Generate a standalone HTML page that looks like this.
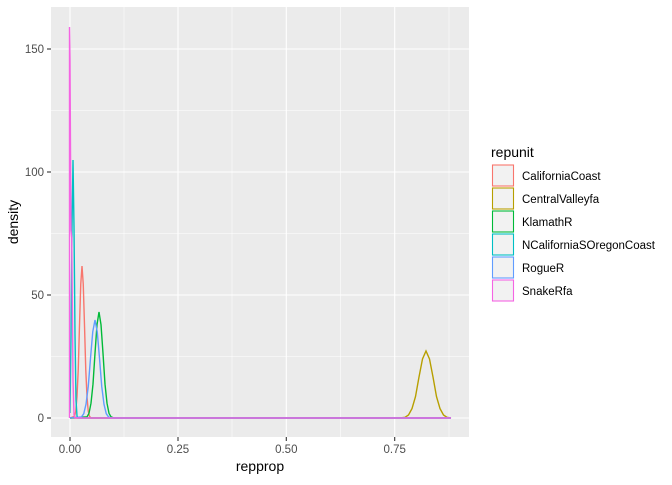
<!DOCTYPE html>
<html><head><meta charset="utf-8"><style>
body{margin:0;background:#fff;}
svg text{font-family:"Liberation Sans",Arial,sans-serif;}
</style></head><body>
<svg width="672" height="480" viewBox="0 0 672 480" xmlns="http://www.w3.org/2000/svg">
<rect x="51" y="7" width="418" height="430" fill="#ebebeb"/>
<g stroke="#fff" stroke-width="0.55">
<line x1="124" y1="7" x2="124" y2="437"/><line x1="232" y1="7" x2="232" y2="437"/><line x1="340.5" y1="7" x2="340.5" y2="437"/><line x1="449" y1="7" x2="449" y2="437"/>
<line x1="51" y1="356.5" x2="469" y2="356.5"/><line x1="51" y1="233.5" x2="469" y2="233.5"/><line x1="51" y1="110.5" x2="469" y2="110.5"/>
</g>
<g stroke="#fff" stroke-width="1.1">
<line x1="70" y1="7" x2="70" y2="437"/><line x1="178" y1="7" x2="178" y2="437"/><line x1="286.3" y1="7" x2="286.3" y2="437"/><line x1="394.7" y1="7" x2="394.7" y2="437"/>
<line x1="51" y1="418" x2="469" y2="418"/><line x1="51" y1="295" x2="469" y2="295"/><line x1="51" y1="172" x2="469" y2="172"/><line x1="51" y1="49" x2="469" y2="49"/>
</g>
<g fill="none" stroke-width="1.4">
<polyline stroke="#F8766D" points="70,418 74.5,416.3 75.75,411.3 77,396.7 78.25,369.4 79.5,325.3 80.75,284.2 82,266 83.25,284.2 84.5,325.3 85.75,369.4 87,396.7 88.25,411.3 89.5,416.3 91,418 451,418"/>
<polyline stroke="#B79F00" points="70,418 400,418 405,417.3 408.5,415 412,408.6 415.5,396.6 419,377 422.5,359 426,351 429.5,359 433,377 436.5,396.6 440,408.6 443.5,415 447,417.3 451,418"/>
<polyline stroke="#00BA38" points="70,418 87,416.8 89,413.3 91,403.2 93,384.1 95,353.3 97,324.7 99,312 101,324.7 103,353.3 105,384.1 107,403.2 109,413.3 111,416.8 114,418 451,418"/>
<polyline stroke="#00BFC4" points="70,413 71,335 72,227 73,160 74,227 75,335 76,400 77,416 78,418 451,418"/>
<polyline stroke="#619CFF" points="70,418 81.5,416.9 83.75,413.7 86,404.3 88.25,386.6 90.5,358.2 92.75,331.8 95,320 97.25,331.8 99.5,358.2 101.75,386.6 104,404.3 106.25,413.7 108.5,416.9 111,418 451,418"/>
<polyline stroke="#F564E3" points="69.5,418 69.5,27 70,60 70.5,150 71,230 71.7,238 72.3,300 73,380 74,415 75,418 451,418"/>
</g>
<g stroke="#333" stroke-width="1.1">
<line x1="47" y1="418" x2="51" y2="418"/><line x1="47" y1="295" x2="51" y2="295"/><line x1="47" y1="172" x2="51" y2="172"/><line x1="47" y1="49" x2="51" y2="49"/>
<line x1="70" y1="437" x2="70" y2="441"/><line x1="178" y1="437" x2="178" y2="441"/><line x1="286.3" y1="437" x2="286.3" y2="441"/><line x1="394.7" y1="437" x2="394.7" y2="441"/>
</g>
<g fill="#4d4d4d" font-size="11.5" text-anchor="end">
<text x="44" y="422">0</text><text x="44" y="299">50</text><text x="44" y="176">100</text><text x="44" y="53">150</text>
</g>
<g fill="#4d4d4d" font-size="11.5" text-anchor="middle">
<text x="70" y="453">0.00</text><text x="178" y="453">0.25</text><text x="286.3" y="453">0.50</text><text x="394.7" y="453">0.75</text>
</g>
<text x="260" y="471" font-size="14" text-anchor="middle" fill="#000">repprop</text>
<text x="0" y="0" font-size="14" text-anchor="middle" fill="#000" transform="translate(18,222) rotate(-90)">density</text>
<text x="491" y="157" font-size="14" fill="#000">repunit</text>
<g fill="#f2f2f2" stroke-width="1.1">
<rect x="492.5" y="165" width="21" height="21" stroke="#F8766D"/>
<rect x="492.5" y="188" width="21" height="21" stroke="#B79F00"/>
<rect x="492.5" y="211" width="21" height="21" stroke="#00BA38"/>
<rect x="492.5" y="234" width="21" height="21" stroke="#00BFC4"/>
<rect x="492.5" y="257" width="21" height="21" stroke="#619CFF"/>
<rect x="492.5" y="280" width="21" height="21" stroke="#F564E3"/>
</g>
<g font-size="11.5" fill="#000">
<text x="522" y="180">CaliforniaCoast</text>
<text x="522" y="203">CentralValleyfa</text>
<text x="522" y="226">KlamathR</text>
<text x="522" y="249">NCaliforniaSOregonCoast</text>
<text x="522" y="272">RogueR</text>
<text x="522" y="295">SnakeRfa</text>
</g>
</svg>
</body></html>
